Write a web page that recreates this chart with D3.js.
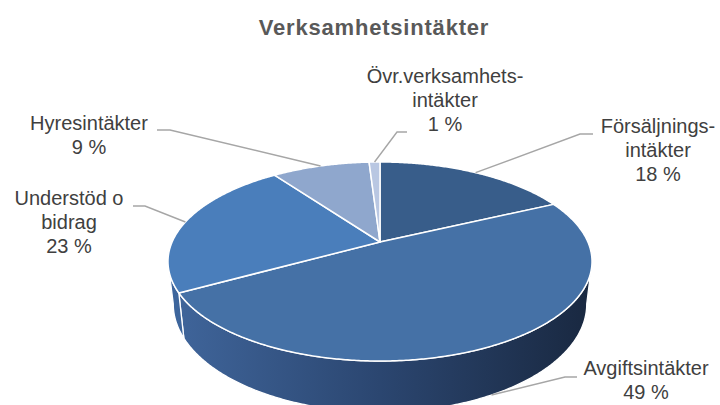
<!DOCTYPE html>
<html>
<head>
<meta charset="utf-8">
<script src="https://cdn.jsdelivr.net/npm/d3@7/dist/d3.min.js"></script>
<style>
  body { margin: 0; background: #fff; }
  svg { display: block; font-family: "Liberation Sans", Arial, sans-serif; }
</style>
</head>
<body>
<svg id="chart" width="720" height="405"></svg>
<script>
// data
var categories = ["Försäljningsintäkter", "Avgiftsintäkter", "Understöd o bidrag", "Hyresintäkter", "Övr.verksamhetsintäkter"];
var values = [18, 49, 23, 9, 1];
var labelLines = [["Försäljnings-", "intäkter"], ["Avgiftsintäkter"], ["Understöd o", "bidrag"], ["Hyresintäkter"], ["Övr.verksamhets-", "intäkter"]];

// layout
var topColors = ["#385d8a", "#4571a6", "#4a7ebb", "#8fa7cd", "#b9c7e2"];
var sideColors = [null, "url(#sideGrad)", "#3d659c", "#6f87ad", "#98a7c2"];
var labelPos = [[658, 133], [646, 375], [69, 205], [89, 130], [445, 83]];
var leaderStart = [[593, 134], [577, 377], [133, 206], [157, 130], [407, 132]];
var leaderElbow = [[580, 134], [565, 377], [145, 206], [170, 130], [397, 132]];

var svg = d3.select("#chart");
var cx = 380, cy = 242, a = 207.9, b = 95.7, k = 0.196, depth = 41, sx = 0.975;

// perspective view of the pie disc
function proj(theta, r) {
    if (r === undefined) r = 1;
    var u = r * Math.sin(theta), v = r * Math.cos(theta), w = 1 + k * v;
    return [cx + a * u / w, cy - b * v / w, w];
}
function projBottom(theta) {
    var p = proj(theta);
    return [cx + (p[0] - cx) * sx, p[1] + depth / p[2]];
}
function arcPts(t0, t1, f) {
    var n = Math.max(2, Math.ceil(Math.abs(t1 - t0) / (Math.PI / 360)));
    return d3.range(n + 1).map(function(i) { return f(t0 + (t1 - t0) * i / n); });
}

var pie = d3.pie().sort(null).value(function(d) { return d; });
var arcs = pie(values);
var line = d3.line();

var defs = svg.append("defs");
var grad = defs.append("linearGradient")
    .attr("id", "sideGrad")
    .attr("gradientUnits", "userSpaceOnUse")
    .attr("x1", cx - a * 1.02).attr("x2", cx + a * 1.02)
    .attr("y1", 0).attr("y2", 0);
grad.append("stop").attr("offset", "0%").attr("stop-color", "#40669c");
grad.append("stop").attr("offset", "50%").attr("stop-color", "#2b4670");
grad.append("stop").attr("offset", "100%").attr("stop-color", "#192840");

// title
svg.append("text")
    .attr("x", 374).attr("y", 35)
    .attr("text-anchor", "middle")
    .style("font-size", "22px")
    .style("font-weight", "bold")
    .style("letter-spacing", "0.8px")
    .attr("fill", "#595959")
    .text("Verksamhetsintäkter");

// side walls (front half only)
var silA = Math.acos(-k), silB = 2 * Math.PI - Math.acos(-k);
var sides = svg.append("g").attr("class", "sides");
arcs.forEach(function(d, i) {
    var s = Math.max(d.startAngle, silA), e = Math.min(d.endAngle, silB);
    if (e <= s) return;
    var pts = arcPts(s, e, function(t) { return proj(t).slice(0, 2); })
        .concat(arcPts(e, s, projBottom));
    sides.append("path")
        .attr("d", line(pts) + "Z")
        .attr("fill", sideColors[i])
        .attr("stroke", "#fff")
        .attr("stroke-width", 1.3)
        .attr("stroke-linejoin", "round");
});

// top faces
var tops = svg.append("g").attr("class", "tops");
arcs.forEach(function(d, i) {
    var pts = [[cx, cy]].concat(arcPts(d.startAngle, d.endAngle, function(t) { return proj(t).slice(0, 2); }));
    tops.append("path")
        .attr("d", line(pts) + "Z")
        .attr("fill", topColors[i])
        .attr("stroke", "#fff")
        .attr("stroke-width", 1.5)
        .attr("stroke-linejoin", "round");
});

// leader lines
var leaders = svg.append("g").attr("class", "leaders");
arcs.forEach(function(d, i) {
    var mid = (d.startAngle + d.endAngle) / 2;
    var end = (mid > silA && mid < silB) ? projBottom(mid) : proj(mid).slice(0, 2);
    leaders.append("path")
        .attr("d", line([leaderStart[i], leaderElbow[i], end]))
        .attr("fill", "none")
        .attr("stroke", "#a6a6a6")
        .attr("stroke-width", 1.4);
});

// labels
var labels = svg.append("g").attr("class", "labels");
arcs.forEach(function(d, i) {
    var lines = labelLines[i].concat([values[i] + " %"]);
    var t = labels.append("text")
        .attr("text-anchor", "middle")
        .style("font-size", "20px")
        .attr("fill", "#404040");
    lines.forEach(function(s, j) {
        t.append("tspan")
            .attr("x", labelPos[i][0])
            .attr("y", labelPos[i][1] + j * 24)
            .text(s);
    });
});
</script>
</body>
</html>
